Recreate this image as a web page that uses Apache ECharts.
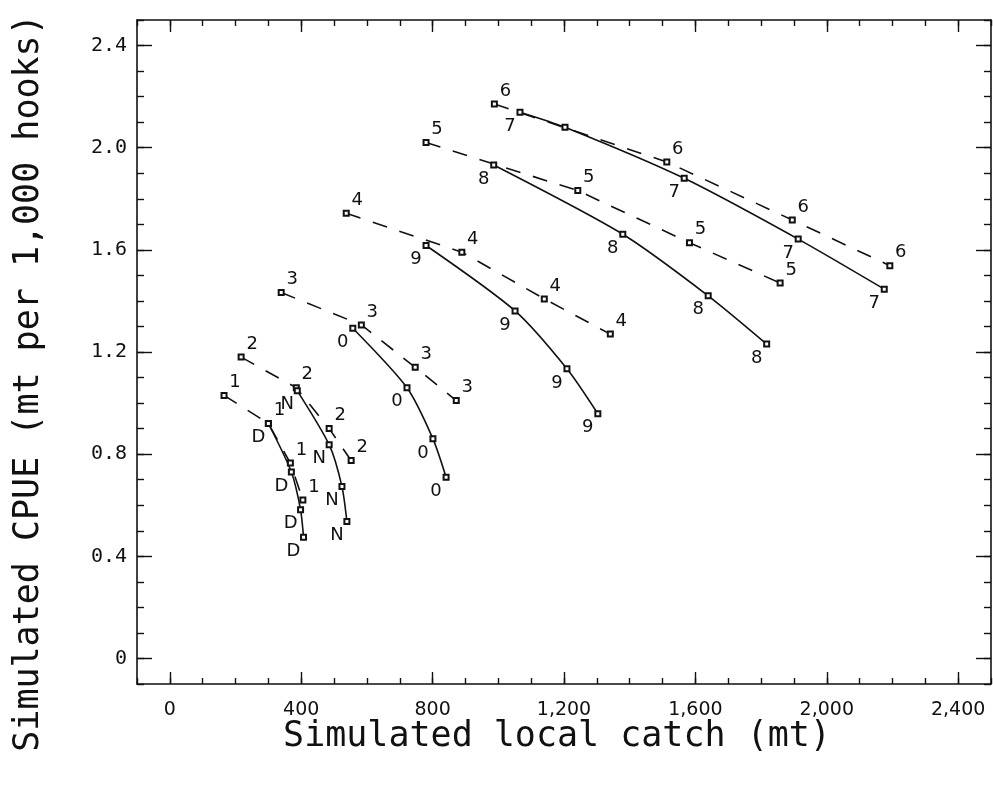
<!DOCTYPE html>
<html>
<head>
<meta charset="utf-8">
<script src="https://cdn.jsdelivr.net/npm/echarts@6/dist/echarts.min.js"></script>
<style>html,body{margin:0;padding:0;background:#fff}#c{width:993px;height:789px}</style>
</head>
<body>
<div id="c"></div>
<script>
// Simulated local catch (mt), Simulated CPUE (mt per 1,000 hooks)
// Months 1-6: dashed lines; months 7-12 (7,8,9,0,N,D): solid lines
const pts1 = [[165,1.03],[300,0.92],[367,0.765],[405,0.62]];
const pts2 = [[217,1.18],[385,1.06],[485,0.90],[552,0.775]];
const pts3 = [[339,1.433],[583,1.306],[747,1.14],[872,1.01]];
const pts4 = [[537,1.743],[889,1.591],[1140,1.408],[1341,1.27]];
const pts5 = [[780,2.02],[1242,1.832],[1582,1.628],[1858,1.47]];
const pts6 = [[988,2.171],[1513,1.944],[1895,1.717],[2192,1.538]];
const pts7 = [[1066,2.139],[1203,2.08],[1566,1.88],[1913,1.642],[2175,1.446]];
const pts8 = [[986,1.932],[1379,1.661],[1639,1.42],[1817,1.231]];
const pts9 = [[780,1.617],[1051,1.361],[1209,1.134],[1303,0.958]];
const pts0 = [[557,1.293],[722,1.06],[801,0.86],[841,0.71]];
const ptsN = [[388,1.048],[485,0.837],[524,0.673],[539,0.536]];
const ptsD = [[300,0.92],[370,0.73],[398,0.582],[407,0.475]];
const unlabeled7 = [1];

const xTickLabels = [0,400,800,1200,1600,2000,2400];
const yTickLabels = [0,0.4,0.8,1.2,1.6,2.0,2.4];
const xTitle = 'Simulated local catch (mt)';
const yTitle = 'Simulated CPUE (mt per 1,000 hooks)';

const dashedSets = [['1',pts1],['2',pts2],['3',pts3],['4',pts4],['5',pts5],['6',pts6]];
const solidSets = [['7',pts7,unlabeled7],['8',pts8,[]],['9',pts9,[]],['0',pts0,[]],['N',ptsN,[]],['D',ptsD,[]]];

const labelFont = {fontFamily:'DejaVu Sans', fontSize:18, color:'#111'};
const series = [];
dashedSets.forEach(([name,pts])=>{
  series.push({
    type:'line', name, xAxisIndex:0, yAxisIndex:0,
    data: pts, symbol:'emptyRect', symbolSize:5, showAllSymbol:true,
    lineStyle:{color:'#111', width:1.6, type:[15,13]},
    itemStyle:{color:'#111', borderColor:'#111', borderWidth:1.2},
    label:{show:true, position:'inside', offset:[11,-13], formatter:()=>name, ...labelFont},
    z:3
  });
});
solidSets.forEach(([name,pts,hide])=>{
  series.push({
    type:'line', name, xAxisIndex:0, yAxisIndex:0,
    data: pts.map((p,i)=> hide.includes(i) ? {value:p, label:{show:false}} : p),
    symbol:'emptyRect', symbolSize:5, showAllSymbol:true, smooth:0.25,
    lineStyle:{color:'#111', width:1.6, type:'solid'},
    itemStyle:{color:'#111', borderColor:'#111', borderWidth:1.2},
    label:{show:true, position:'inside', offset:[-10,14], formatter:()=>name, ...labelFont},
    z:3
  });
});

const axisLineStyle = {show:true, onZero:false, lineStyle:{color:'#111', width:1.6}};
const noLine = {show:false, onZero:false};
function xAx(pos, opts){
  return Object.assign({
    type:'value', position:pos, min:-100, max:2500, interval:100,
    axisLine:axisLineStyle, splitLine:{show:false},
    axisTick:{show:true, inside:true, length:6, lineStyle:{color:'#111', width:1.4}},
    axisLabel:{show:false}
  }, opts);
}
function yAx(pos, opts){
  return Object.assign({
    type:'value', position:pos, min:-0.1, max:2.5, interval:0.1,
    axisLine:axisLineStyle, splitLine:{show:false},
    axisTick:{show:true, inside:true, length:7, lineStyle:{color:'#111', width:1.4}},
    axisLabel:{show:false}
  }, opts);
}
const majorX = {show:true, inside:true, length:12, customValues:xTickLabels, lineStyle:{color:'#111', width:1.4}};
const majorY = {show:true, inside:true, length:15, customValues:yTickLabels, lineStyle:{color:'#111', width:1.4}};

const chart = echarts.init(document.getElementById('c'), null, {renderer:'canvas'});
chart.setOption({
  backgroundColor:'#fff',
  animation:false,
  grid:{left:137, right:2, top:20, bottom:105, containLabel:false},
  xAxis:[
    xAx('bottom', {
      axisLabel:{show:true, customValues:xTickLabels, margin:17, fontFamily:'DejaVu Sans', fontSize:19, color:'#111',
        formatter:v=>v.toLocaleString('en-US')}
    }),
    xAx('bottom', {axisLine:noLine, axisTick:majorX}),
    xAx('top', {}),
    xAx('top', {axisLine:noLine, axisTick:majorX})
  ],
  yAxis:[
    yAx('left', {
      axisLabel:{show:true, customValues:yTickLabels, margin:10, fontFamily:'DejaVu Sans Mono', fontSize:20, color:'#111',
        formatter:v=> Math.abs(v)<1e-9 ? '0' : v.toFixed(1)}
    }),
    yAx('left', {axisLine:noLine, axisTick:majorY}),
    yAx('right', {}),
    yAx('right', {axisLine:noLine, axisTick:majorY})
  ],
  graphic:[
    {type:'text', x:557, y:737, silent:true,
      style:{text:xTitle, font:'35px "DejaVu Sans Mono"', fill:'#111', align:'center', verticalAlign:'middle', textAlign:'center', textVerticalAlign:'middle'}},
    {type:'text', x:29, y:383, rotation:Math.PI/2, silent:true,
      style:{text:yTitle, font:'35px "DejaVu Sans Mono"', fill:'#111', align:'center', verticalAlign:'middle', textAlign:'center', textVerticalAlign:'middle'}}
  ],
  series
});
</script>
</body>
</html>
